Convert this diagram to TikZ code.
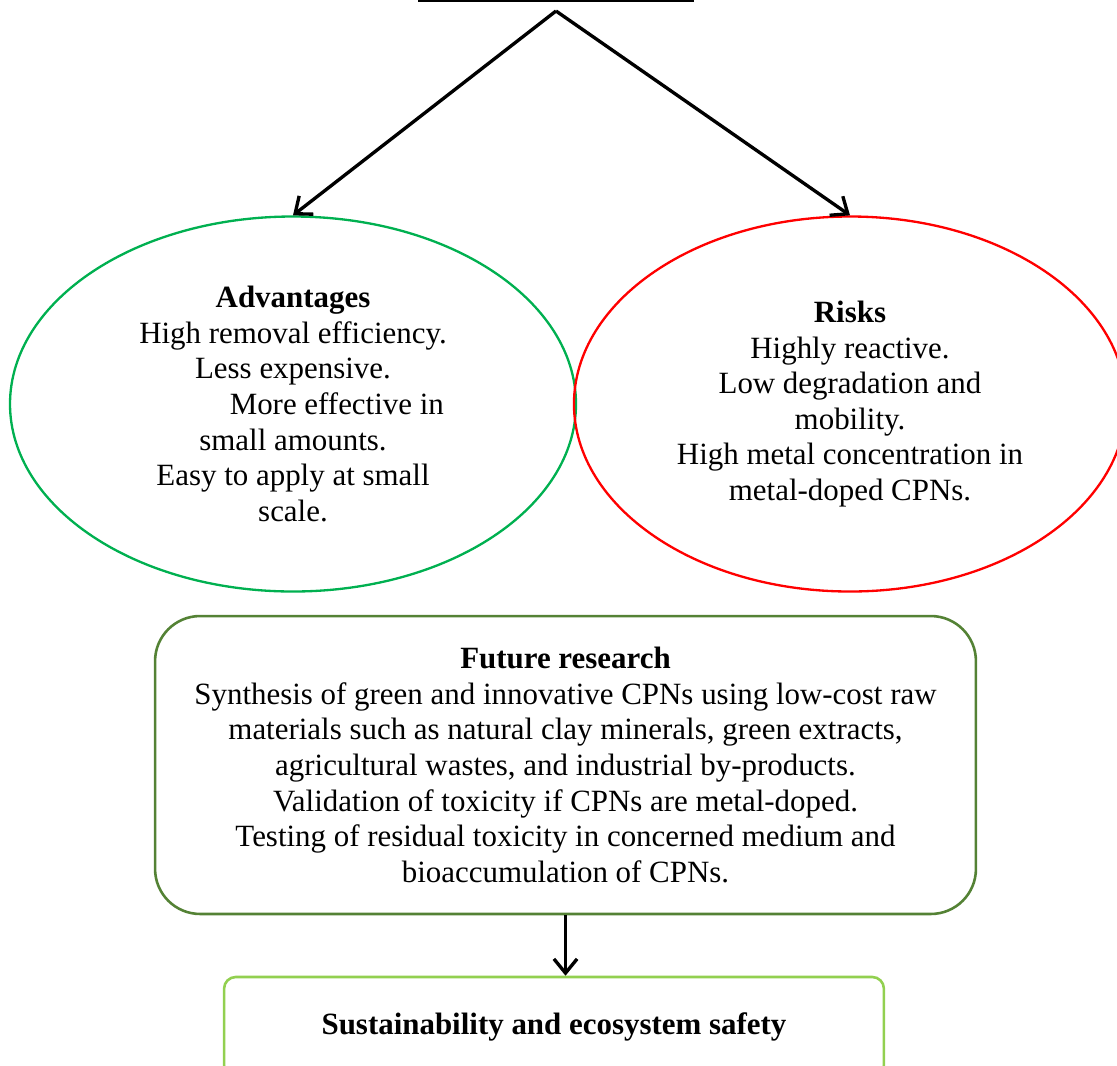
\documentclass[tikz,border=0pt]{standalone}
\usepackage{fontspec}
\setmainfont{Liberation Serif}
\usetikzlibrary{arrows.meta,shapes.geometric,positioning}
\definecolor{advgreen}{HTML}{00B050}
\definecolor{riskred}{HTML}{FF0000}
\definecolor{resgreen}{HTML}{548235}
\definecolor{susgreen}{HTML}{92D050}

\begin{document}
\begin{tikzpicture}[x=0.388pt,y=-0.388pt,
  txt/.style={align=center,font=\fontsize{12}{13.8}\selectfont},
  oval/.style={ellipse,draw,line width=0.9pt,inner sep=0pt,minimum height=145.5pt,txt},
  rbox/.style={rectangle,draw,line width=1pt,inner sep=0pt,txt},
  arr/.style={-{Straight Barb[length=5.5pt,width=9pt]},line width=1.3pt}]
  \useasboundingbox (0,0) rectangle (1117,1065);
  \draw[line width=1.2pt] (418,0.5) -- (694,0.5);
  \coordinate (top) at (556,11);
  \node[oval,draw=advgreen,minimum width=219.6pt] (adv) at (293,404) {\textbf{Advantages}\\High removal efficiency.\\Less expensive.\\\hspace*{34pt}More effective in\\small amounts.\\Easy to apply at small\\scale.};
  \node[oval,draw=riskred,minimum width=214.2pt] (risk) at (850,404) {\textbf{Risks}\\Highly reactive.\\Low degradation and\\mobility.\\High metal concentration in\\metal-doped CPNs.};
  \node[rbox,draw=resgreen,rounded corners=17.5pt,minimum width=318.5pt,minimum height=115.6pt] (fut) at (565.5,765) {\textbf{Future research}\\Synthesis of green and innovative CPNs using low-cost raw\\materials such as natural clay minerals, green extracts,\\agricultural wastes, and industrial by-products.\\Validation of toxicity if CPNs are metal-doped.\\Testing of residual toxicity in concerned medium and\\bioaccumulation of CPNs.};
  \node[rbox,draw=susgreen,rounded corners=4.5pt,minimum width=256pt,minimum height=38.8pt] (sus) at (554,1027) {\textbf{Sustainability and ecosystem safety}};
  \draw[arr] (top) -- (adv.north);
  \draw[arr] (top) -- (risk.north);
  \draw[arr] (fut.south) -- (fut.south |- sus.north);
\end{tikzpicture}
\end{document}
